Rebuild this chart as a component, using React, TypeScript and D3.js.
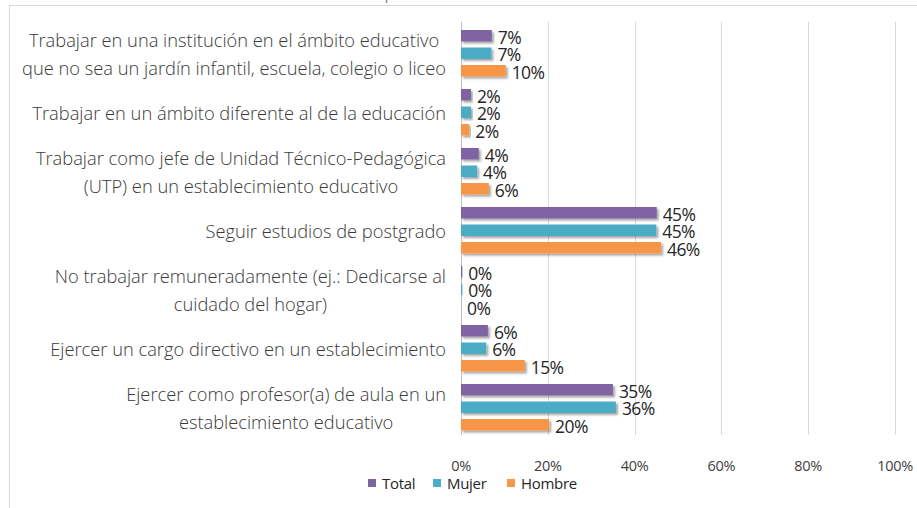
import React from "react";
import * as d3 from "d3";

const categories: string[][] = [
  ["Trabajar en una institución en el ámbito educativo", "que no sea un jardín infantil, escuela, colegio o liceo"],
  ["Trabajar en un ámbito diferente al de la educación"],
  ["Trabajar como jefe de Unidad Técnico-Pedagógica", "(UTP) en un establecimiento educativo"],
  ["Seguir estudios de postgrado"],
  ["No trabajar remuneradamente (ej.: Dedicarse al", "cuidado del hogar)"],
  ["Ejercer un cargo directivo en un establecimiento"],
  ["Ejercer como profesor(a) de aula en un", "establecimiento educativo"],
];

const seriesNames = ["Total", "Mujer", "Hombre"];
const totalValues = [7.1, 2.3, 4.1, 45.1, 0.3, 6.2, 35.0];
const mujerValues = [7.0, 2.3, 3.7, 45.0, 0.3, 5.8, 35.7];
const hombreValues = [10.3, 1.9, 6.4, 46.1, 0, 14.7, 20.3];
const seriesColors = ["#8064A2", "#4BACC6", "#F79646"];
const xTicks = [0, 20, 40, 60, 80, 100];
const title = "Gráfico 30: Expectativas futuras de los estudiantes";

const W = 917;
const H = 508;
const FONT = "'Open Sans', sans-serif";

let measureCtx: CanvasRenderingContext2D | null = null;
function measure(text: string, font: string): number {
  if (!measureCtx) {
    const c = document.createElement("canvas");
    measureCtx = c.getContext("2d");
  }
  if (!measureCtx) return text.length * 8;
  measureCtx.font = font;
  return measureCtx.measureText(text).width;
}

export default function App() {
  const seriesValues = [totalValues, mujerValues, hombreValues];
  const x = d3.scaleLinear().domain([0, 100]).range([461, 895]);
  const y = d3
    .scaleBand<number>()
    .domain(d3.range(categories.length))
    .range([24, 437]);
  const inner = d3
    .scaleBand<number>()
    .domain(d3.range(seriesNames.length))
    .range([6, 52.5])
    .paddingInner(0.343)
    .paddingOuter(0);

  const catFontSize = 18.3;
  const catWeight = 300;
  const catFont = `${catWeight} ${catFontSize}px 'Open Sans'`;
  const labelRight = 446;

  return (
    <svg
      width={W}
      height={H}
      style={{ position: "absolute", left: 0, top: 0, background: "#fff" }}
      fontFamily={FONT}
    >
      <defs>
        <filter id="shadow" x="-10%" y="-30%" width="130%" height="180%">
          <feDropShadow dx="2" dy="2" stdDeviation="1.2" floodColor="#000" floodOpacity="0.35" />
        </filter>
      </defs>
      <rect x={0} y={0} width={W} height={H} fill="#fff" />
      {/* title (cut off by the top edge) */}
      <text x={470} y={-1.5} textAnchor="middle" fontSize={16} fill="#7F7F7F">
        {title}
      </text>
      {/* frame */}
      <line x1={9} x2={W} y1={5.5} y2={5.5} stroke="#D9D9D9" strokeWidth={1} />
      <line x1={9.5} x2={9.5} y1={5} y2={H} stroke="#D9D9D9" strokeWidth={1} />

      {/* gridlines */}
      {xTicks.map((t) => (
        <line
          key={t}
          x1={Math.round(x(t)) + 0.5}
          x2={Math.round(x(t)) + 0.5}
          y1={22}
          y2={435}
          stroke={t === 0 ? "#BFBFBF" : "#D9D9D9"}
          strokeWidth={1}
        />
      ))}

      {/* bars */}
      {categories.map((_, ci) =>
        seriesValues.map((vals, si) => {
          const v = vals[ci];
          const by = (y(ci) as number) + (inner(si) as number);
          const bw = x(v) - x(0);
          return (
            <g key={`${ci}-${si}`}>
              {bw > 0 && (
                <rect
                  x={x(0)}
                  y={by}
                  width={bw}
                  height={inner.bandwidth()}
                  fill={seriesColors[si]}
                  filter="url(#shadow)"
                />
              )}
              <text
                x={x(v) + 6}
                y={by + inner.bandwidth() / 2 + 1}
                dominantBaseline="central"
                fontSize={17.5}
                letterSpacing={-0.6}
                fill="#262626"
              >
                {`${Math.round(v)}%`}
              </text>
            </g>
          );
        })
      )}

      {/* category labels */}
      {categories.map((lines, ci) => {
        const cy = (y(ci) as number) + y.bandwidth() / 2;
        const maxW = Math.max(...lines.map((l) => measure(l, catFont)));
        const cx = labelRight - maxW / 2;
        const lh = 28.5;
        const y0 = cy - ((lines.length - 1) * lh) / 2;
        return (
          <text
            key={ci}
            x={cx}
            textAnchor="middle"
            fontSize={catFontSize}
            fontWeight={catWeight}
            fill="#3A3A3A"
          >
            {lines.map((l, li) => (
              <tspan key={li} x={cx} y={y0 + li * lh} dominantBaseline="central">
                {l}
              </tspan>
            ))}
          </text>
        );
      })}

      {/* x tick labels */}
      {xTicks.map((t) => (
        <text
          key={t}
          x={x(t)}
          y={465}
          textAnchor="middle"
          dominantBaseline="central"
          fontSize={14.5}
          letterSpacing={-0.3}
          fill="#404040"
        >
          {`${t}%`}
        </text>
      ))}

      {/* legend */}
      {seriesNames.map((name, si) => {
        const lx = [368, 433, 507][si];
        return (
          <g key={name}>
            <rect x={lx} y={479} width={8} height={8} fill={seriesColors[si]} />
            <text x={lx + 14} y={483} dominantBaseline="central" fontSize={15} letterSpacing={-0.3} fill="#262626">
              {name}
            </text>
          </g>
        );
      })}
    </svg>
  );
}
